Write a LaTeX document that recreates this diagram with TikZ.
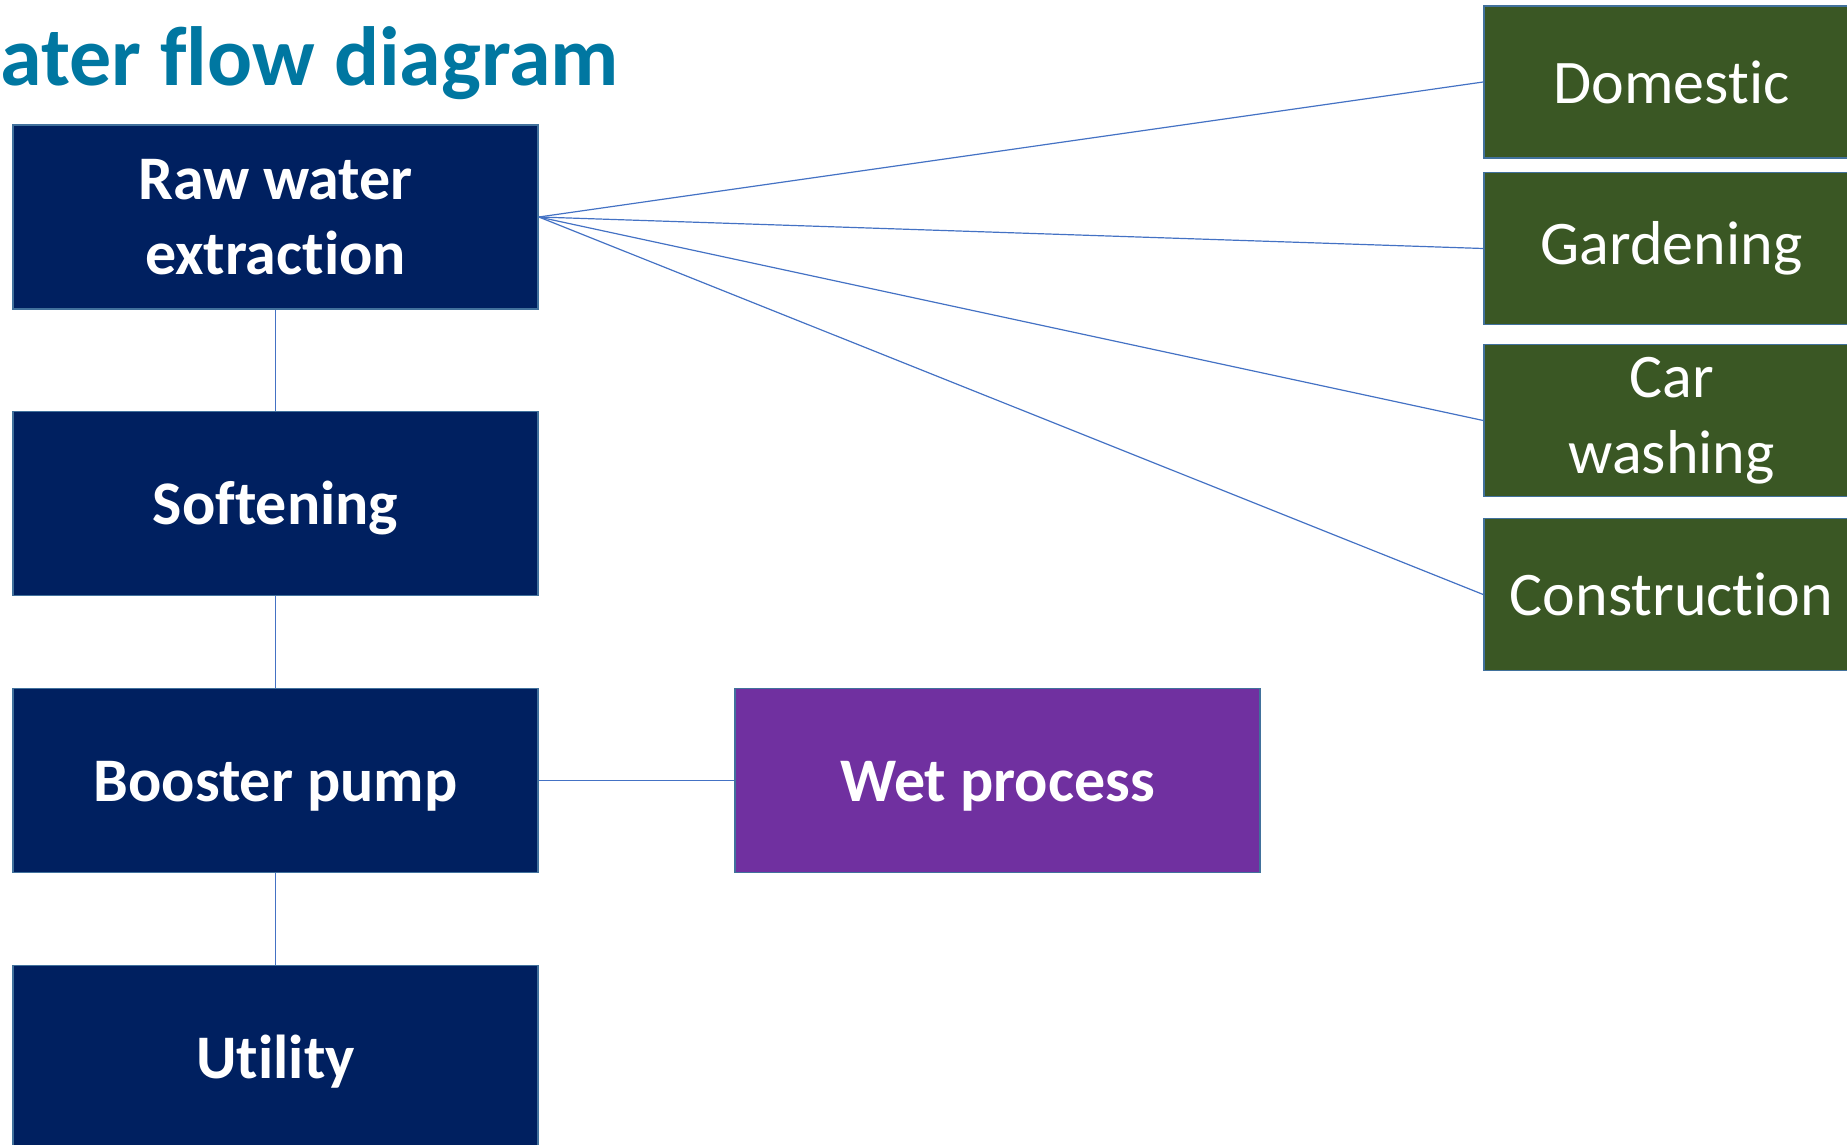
\documentclass[tikz,border=0pt]{standalone}
\usepackage{fontspec}
\setmainfont{Carlito}[Ligatures=NoCommon]
\usetikzlibrary{positioning}
\definecolor{navyfill}{HTML}{002060}
\definecolor{greenfill}{HTML}{3A5724}
\definecolor{purplefill}{HTML}{7030A0}
\definecolor{edgeblue}{HTML}{41719C}
\definecolor{linkblue}{HTML}{4472C4}
\definecolor{titleteal}{HTML}{0077A1}
\begin{document}
\begin{tikzpicture}[x=0.5pt, y=-0.5pt,
		block/.style={rectangle, draw=edgeblue, line width=0.8pt, text=white, align=center,
			font=\fontsize{31}{37.8}\selectfont, inner sep=0pt},
		stage/.style={block, fill=navyfill, font=\fontsize{31}{37.8}\selectfont\bfseries,
			minimum width=262.5pt, minimum height=92pt},
		oneline/.style={text height=24pt, text depth=3.5pt},
		use/.style={block, fill=greenfill, minimum width=187.5pt, minimum height=76pt},
		process/.style={stage, oneline, fill=purplefill},
		line/.style={draw=linkblue, line width=0.6pt}]
		\useasboundingbox (0,0) rectangle (1847,1145);
		% Title
		\node [anchor=base west, inner sep=0pt, text=titleteal,
			font=\fontsize{42}{50}\selectfont\bfseries] (title) at (0,86) {ater flow diagram};
		% Treatment chain
		\node [stage] (raw) at (275.5,217) {Raw water\\extraction};
		\node [stage, oneline] (soft) at (275.5,503.5) {Softening};
		\node [stage, oneline] (booster) at (275.5,780.5) {Booster pump};
		\node [stage, oneline] (utility) at (275.5,1057.5) {Utility};
		\node [process] (wet) at (997.5,780.5) {Wet process};
		% Uses
		\node [use] (domestic) at (1671.5,82) {Domestic};
		\node [use] (garden) at (1671.5,248.5) {Gardening};
		\node [use] (car) at (1671.5,420.5) {Car\\washing};
		\node [use] (construct) at (1671.5,594.5) {Construction};

		% Paths
		\path [line] (raw) -- (soft);
		\path [line] (soft) -- (booster);
		\path [line] (booster) -- (utility);
		\path [line] (booster) -- (wet);
		\path [line] (raw.east) -- (domestic.west);
		\path [line] (raw.east) -- (garden.west);
		\path [line] (raw.east) -- (car.west);
		\path [line] (raw.east) -- (construct.west);
	\end{tikzpicture}
\end{document}
